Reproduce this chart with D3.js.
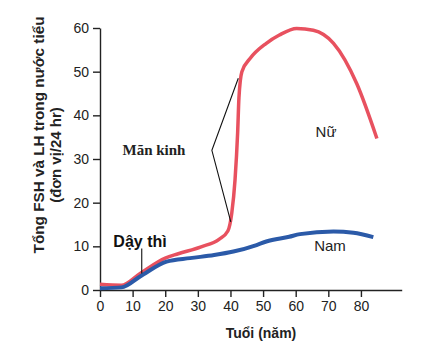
<!DOCTYPE html>
<html lang="vi">
<head>
    <meta charset="UTF-8">
    <title>FSH va LH</title>
    <script src="https://d3js.org/d3.v7.min.js"></script>
    <style>
        body {
            margin: 0;
            background: #fff;
            font-family: "Liberation Sans", Arial, sans-serif;
        }
        .axis path, .axis line {
            stroke: #222;
            stroke-width: 1.4;
        }
        .axis text {
            font-size: 14px;
            fill: #222;
            font-family: "Liberation Sans", Arial, sans-serif;
        }
    </style>
</head>
<body>
    <div id="chart"></div>
    <script>
        // Data: [age, units/24 hr]
        const femaleAge = [0, 6.5, 12.3, 20, 24, 31, 36.5, 39.2, 40.4, 41.4, 42.2, 42.6, 43.5, 46, 51, 55, 60.3, 65.4, 71.6, 78.7, 84.9];
        const femaleVal = [1.3, 1.1, 3.8, 7.3, 8.3, 9.9, 11.6, 13.5, 17.6, 25.2, 36, 44, 50, 53, 56.5, 58.4, 59.9, 59.5, 56.5, 47.3, 34.7];
        const maleAge = [0, 6.6, 12.3, 20.4, 27.6, 35, 40.9, 48, 51, 58, 61.3, 71.6, 77.7, 83.8];
        const maleVal = [0.4, 0.6, 3.1, 6.5, 7.3, 8.0, 8.8, 10.3, 11.1, 12.2, 12.8, 13.4, 13.1, 12.1];
        const xTicks = [0, 10, 20, 30, 40, 50, 60, 70, 80];
        const yTicks = [0, 10, 20, 30, 40, 50, 60];
        // menopause bracket: top point, elbow, bottom point
        const bracket = [[42.4, 48.5], [34.3, 32], [40.1, 15.6]];
        const pubertyAge = 12.8;

        const width = 439, height = 346;
        const margin = { top: 28, left: 100 };
        const plotW = 301.7, plotH = 262;

        const svg = d3.select("#chart").append("svg")
            .attr("width", width)
            .attr("height", height);

        const g = svg.append("g")
            .attr("transform", `translate(${margin.left},${margin.top})`);

        const x = d3.scaleLinear().domain([0, 92.5]).range([0, plotW]);
        const y = d3.scaleLinear().domain([0, 60]).range([plotH, 0]);

        g.append("g")
            .attr("class", "axis")
            .attr("transform", `translate(0,${plotH})`)
            .call(d3.axisBottom(x).tickValues(xTicks).tickSize(7).tickSizeOuter(0).tickPadding(4));

        g.append("g")
            .attr("class", "axis")
            .call(d3.axisLeft(y).tickValues(yTicks).tickSize(7).tickSizeOuter(0).tickPadding(4));

        const line = d3.line()
            .x(d => x(d[0]))
            .y(d => y(d[1]))
            .curve(d3.curveMonotoneX);

        const female = femaleAge.map((a, i) => [a, femaleVal[i]]);
        const male = maleAge.map((a, i) => [a, maleVal[i]]);

        g.append("path")
            .datum(female)
            .attr("d", line)
            .style("fill", "none")
            .style("stroke", "#e8515f")
            .style("stroke-width", 3.5);

        g.append("path")
            .datum(male)
            .attr("d", line)
            .style("fill", "none")
            .style("stroke", "#2b5aa8")
            .style("stroke-width", 4);

        // annotations
        g.append("path")
            .attr("d", d3.line().x(d => x(d[0])).y(d => y(d[1]))(bracket))
            .style("fill", "none")
            .style("stroke", "#111")
            .style("stroke-width", 1.1);

        g.append("line")
            .attr("x1", x(pubertyAge)).attr("x2", x(pubertyAge))
            .attr("y1", y(9.5)).attr("y2", y(3.8))
            .style("stroke", "#111")
            .style("stroke-width", 1.1);

        svg.append("text")
            .attr("x", 154).attr("y", 155)
            .attr("text-anchor", "middle")
            .style("font-family", "'Liberation Serif', 'Times New Roman', serif")
            .style("font-weight", "bold")
            .style("font-size", "15px")
            .style("fill", "#222")
            .text("Mãn kinh");

        svg.append("text")
            .attr("x", 140).attr("y", 247)
            .attr("text-anchor", "middle")
            .style("font-weight", "bold")
            .style("font-size", "16px")
            .style("fill", "#111")
            .text("Dậy thì");

        svg.append("text")
            .attr("x", 326).attr("y", 137)
            .attr("text-anchor", "middle")
            .style("font-size", "15px")
            .style("fill", "#222")
            .text("Nữ");

        svg.append("text")
            .attr("x", 330).attr("y", 251)
            .attr("text-anchor", "middle")
            .style("font-size", "15px")
            .style("fill", "#222")
            .text("Nam");

        // axis titles
        svg.append("text")
            .attr("transform", "translate(43.5,135) rotate(-90)")
            .attr("text-anchor", "middle")
            .style("font-weight", "bold")
            .style("font-size", "15.3px")
            .style("fill", "#222")
            .text("Tổng  FSH và LH trong nước tiểu");

        svg.append("text")
            .attr("transform", "translate(60.5,155) rotate(-90)")
            .attr("text-anchor", "middle")
            .style("font-weight", "bold")
            .style("font-size", "15px")
            .style("fill", "#222")
            .text("(đơn vị/24 hr)");

        svg.append("text")
            .attr("x", 261).attr("y", 338)
            .attr("text-anchor", "middle")
            .style("font-weight", "bold")
            .style("font-size", "14px")
            .style("fill", "#222")
            .text("Tuổi (năm)");
    </script>
</body>
</html>
